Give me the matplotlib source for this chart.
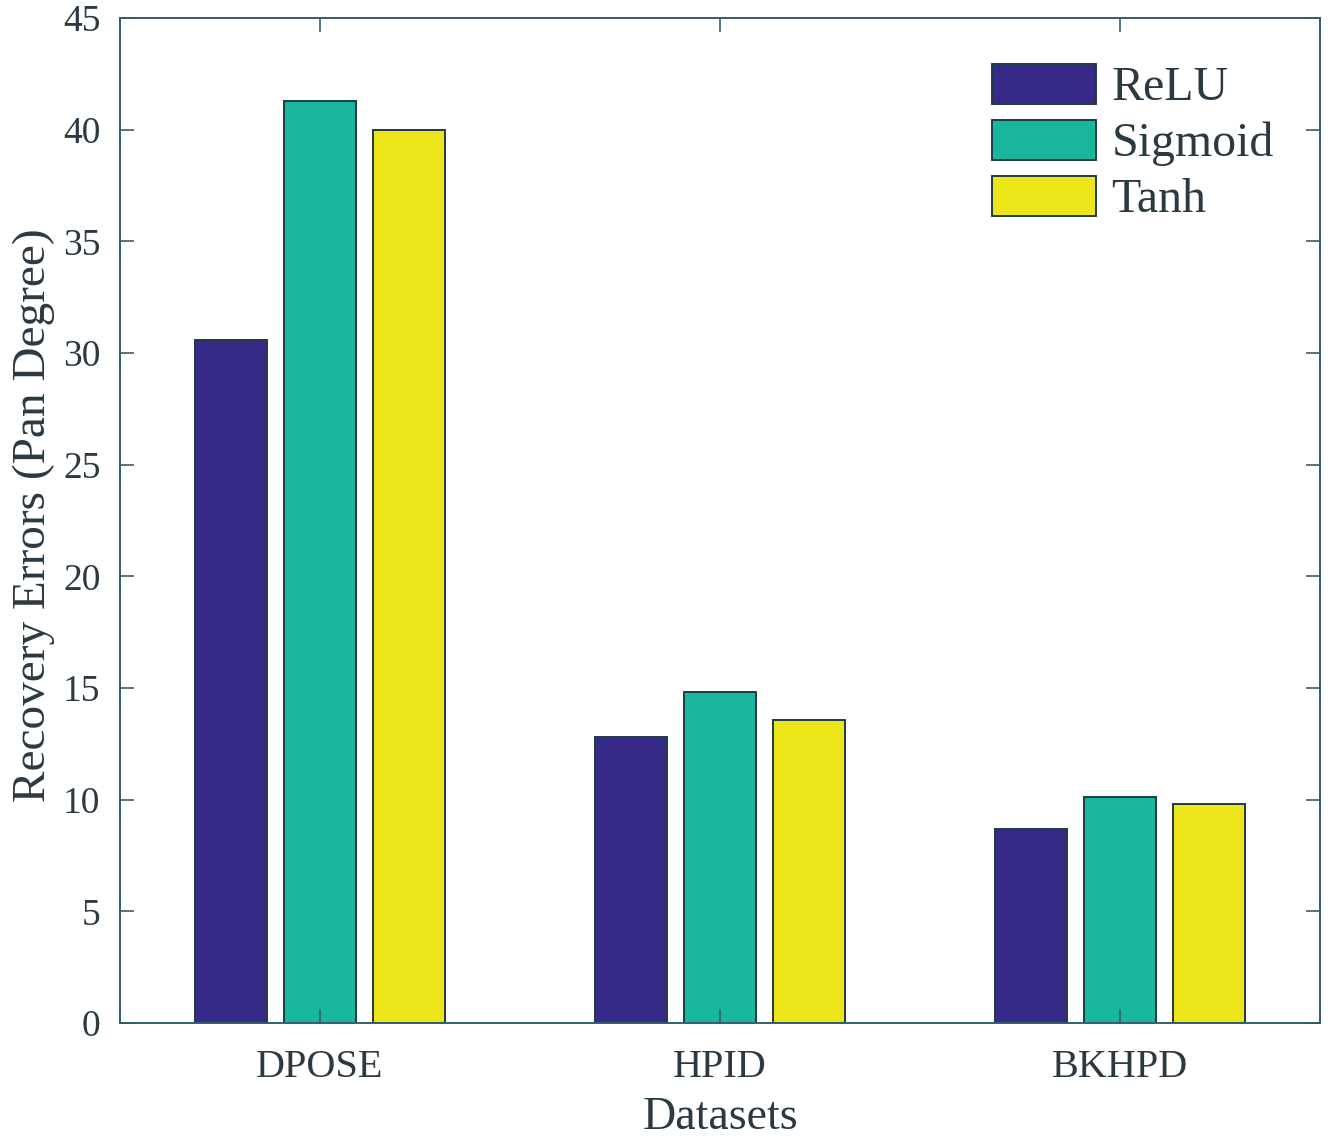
import numpy as np
import matplotlib
matplotlib.use("Agg")
import matplotlib.pyplot as plt

# recovery errors per dataset, one list per activation
datasets = ["DPOSE", "HPID", "BKHPD"]
activations = ["ReLU", "Sigmoid", "Tanh"]
relu_err = [30.6, 12.8, 8.7]
sigmoid_err = [41.3, 14.8, 10.1]
tanh_err = [40.0, 13.55, 9.8]

COLORS = ["#352A87", "#18B69D", "#EBE51A"]
TEXT = "#2b3a42"
AXIS = "#325e6c"
EDGE = "#1f3b44"

plt.rcParams["font.family"] = ["Liberation Serif", "DejaVu Serif"]

fig = plt.figure(figsize=(13.31, 11.38), dpi=100)
ax = fig.add_axes([0.0902, 0.1011, 0.9015, 0.8831])

x = np.arange(1, len(datasets) + 1)
offset = 0.2225
width = 0.18
series = [relu_err, sigmoid_err, tanh_err]
for k, (name, vals) in enumerate(zip(activations, series)):
    ax.bar(x + (k - 1) * offset, vals, width, label=name, color=COLORS[k],
           edgecolor=EDGE, linewidth=1.4)

ax.set_xlim(0.5, 3.5)
ax.set_ylim(0, 45)
ax.set_yticks(np.arange(0, 46, 5))
ax.set_xticks(x)
ax.set_xticklabels(datasets)

ax.tick_params(axis="both", direction="in", length=10, width=1.2, color=AXIS,
               labelcolor=TEXT, top=True, right=True)
ax.tick_params(axis="y", pad=14, labelsize=27)
ax.tick_params(axis="x", pad=19, labelsize=29)
for s in ax.spines.values():
    s.set_color(AXIS)
    s.set_linewidth(1.4)

ax.set_xlabel("Datasets", fontsize=33, color=TEXT)
ax.xaxis.set_label_coords(0.5, -0.073)
ax.set_ylabel("Recovery Errors (Pan Degree)", fontsize=34, color=TEXT)
ax.yaxis.set_label_coords(-0.054, 0.505)

leg = ax.legend(loc="upper left", bbox_to_anchor=(992 / 1331, 1 - 64 / 1138),
                bbox_transform=fig.transFigure, frameon=False, fontsize=34.5,
                handlelength=2.17, handleheight=0.9, labelspacing=0.2,
                handletextpad=0.32, borderpad=0, borderaxespad=0)
for t in leg.get_texts():
    t.set_color(TEXT)

fig.savefig("out.png", dpi=100)
